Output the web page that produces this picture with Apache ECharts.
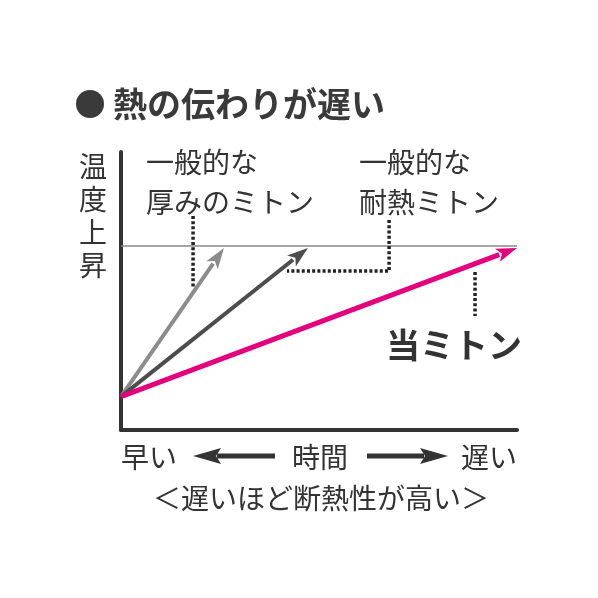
<!DOCTYPE html>
<html><head><meta charset="utf-8">
<script src="https://cdn.jsdelivr.net/npm/echarts@6/dist/echarts.min.js"></script>
<style>html,body{margin:0;padding:0;background:#fff}#c{width:598px;height:598px}</style>
</head><body><div id="c"></div>
<script>
// ---- data (arbitrary units: time 0-100, temperature 0-100) ----
const titleText = '熱の伝わりが遅い';
const yAxisName = '温度上昇';
const arrowNames = ['一般的な厚みのミトン', '一般的な耐熱ミトン', '当ミトン'];
const startTime = 0;
const startTemp = 12;
const endTimes = [26, 47.2, 100];
const endTemps = [65.5, 65.5, 65.5];
const targetTemp = 66.2;
const guideGray = [[18.2, 77], [18.2, 51.4]];
const guideDark = [[67.7, 75.5], [67.7, 57.2], [41.9, 57.2]];
const guidePink = [[89.4, 56.8], [89.4, 41]];
const labelGray = ['一般的な', '厚みのミトン'];
const labelDark = ['一般的な', '耐熱ミトン'];
const labelPink = '当ミトン';
const xLabels = ['早い', '時間', '遅い'];
const caption = '＜遅いほど断熱性が高い＞';

const FONT = '"Noto Sans CJK JP", "Noto Sans", sans-serif';
const arrowColors = ['#8c8c8c', '#4d4d4d', '#e4007f'];
const arrowWidths = [4, 4, 5];

const chart = echarts.init(document.getElementById('c'), null, {renderer: 'canvas'});

function arrowRender(params, api) {
  const i = params.dataIndex;
  const p0 = api.coord([api.value(0), api.value(1)]);
  const p1 = api.coord([api.value(2), api.value(3)]);
  const dx = p1[0] - p0[0], dy = p1[1] - p0[1];
  const len = Math.sqrt(dx * dx + dy * dy);
  const ux = dx / len, uy = dy / len;
  const hl = 21, hw = 7;
  const bx = p1[0] - ux * hl, by = p1[1] - uy * hl;
  const nx = -uy, ny = ux;
  return {
    type: 'group',
    children: [
      {type: 'line', shape: {x1: p0[0], y1: p0[1], x2: bx + ux * 2, y2: by + uy * 2},
       style: {stroke: arrowColors[i], lineWidth: arrowWidths[i]}},
      {type: 'polygon', shape: {points: [[p1[0], p1[1]], [bx + nx * hw, by + ny * hw], [bx + ux * 5, by + uy * 5], [bx - nx * hw, by - ny * hw]]},
       style: {fill: arrowColors[i]}}
    ]
  };
}

const guides = [guideGray, guideDark, guidePink];

const arrowData = endTimes.map((t, i) => [startTime, startTemp, t, endTemps[i], arrowNames[i]]);

function txt(text, x, y, size, opts) {
  return Object.assign({
    type: 'text', x: x, y: y,
    style: Object.assign({text: text, font: 'normal ' + size + 'px ' + FONT, fill: '#333', textAlign: 'left', textVerticalAlign: 'middle'}, opts && opts.style || {})
  }, opts && opts.el || {});
}

function hArrow(xTail, xTip, y) {
  const dir = xTip > xTail ? 1 : -1;
  const base = xTip - dir * 28;
  return [
    {type: 'line', shape: {x1: xTail, y1: y, x2: base + dir * 4, y2: y}, style: {stroke: '#333', lineWidth: 5}},
    {type: 'polygon', shape: {points: [[xTip, y], [base, y - 8], [base + dir * 5, y], [base, y + 8]]}, style: {fill: '#333'}}
  ];
}

const option = {
  animation: false,
  backgroundColor: '#fff',
  grid: {left: 121, top: 152, width: 396, height: 278, containLabel: false},
  xAxis: {type: 'value', min: 0, max: 100, axisLine: {show: true, onZero: false, lineStyle: {color: '#333', width: 4}},
          axisTick: {show: false}, axisLabel: {show: false}, splitLine: {show: false}},
  yAxis: {type: 'value', min: 0, max: 100, axisLine: {show: true, onZero: false, lineStyle: {color: '#333', width: 4}},
          axisTick: {show: false}, axisLabel: {show: false}, splitLine: {show: false}},
  series: [
    {
      type: 'line', data: [[0, targetTemp], [100, targetTemp]], symbol: 'none', silent: true,
      lineStyle: {color: '#888', width: 1.5}, z: 1
    },
    ...guides.map(g => ({
      type: 'line', data: g, symbol: 'none', silent: true,
      lineStyle: {color: '#222', width: 3.5, type: [3, 2.2]}, z: 2
    })),
    {
      type: 'custom', renderItem: arrowRender, data: arrowData, z: 3,
      encode: {x: [0, 2], y: [1, 3]}
    }
  ],
  graphic: [
    {type: 'circle', shape: {cx: 90, cy: 104, r: 14}, style: {fill: '#3a3a3a'}},
    txt(titleText, 113, 104, 34, {style: {font: 'bold 34px ' + FONT, fill: '#3a3a3a'}}),
    txt(yAxisName.split('').join('\n'), 93, 216, 28, {style: {textAlign: 'center', lineHeight: 33}}),
    txt(labelGray[0], 146, 162, 28),
    txt(labelGray[1], 146, 202, 28),
    txt(labelDark[0], 359, 162, 28),
    txt(labelDark[1], 359, 202, 28),
    txt(labelPink, 386, 345, 34, {style: {font: 'bold 34px ' + FONT}}),
    txt(xLabels[0], 121, 457, 28),
    txt(xLabels[1], 292, 457, 28),
    txt(xLabels[2], 461, 457, 28),
    ...hArrow(275, 193, 456),
    ...hArrow(367, 448, 456),
    txt(caption, 321, 498, 28, {style: {textAlign: 'center'}})
  ]
};
chart.setOption(option);
</script></body></html>
